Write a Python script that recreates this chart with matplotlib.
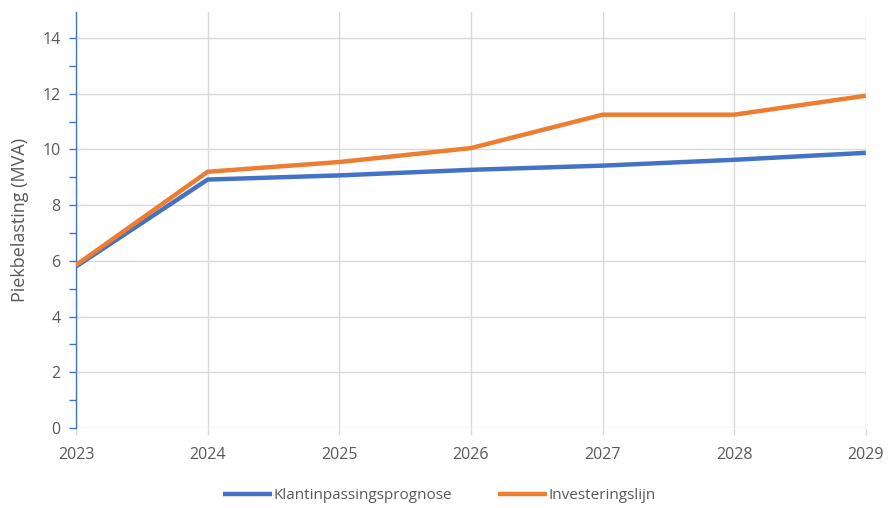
import matplotlib
matplotlib.use("Agg")
import matplotlib.pyplot as plt
from matplotlib.ticker import MultipleLocator

years = [2023, 2024, 2025, 2026, 2027, 2028, 2029]
klant = [5.8, 8.92, 9.07, 9.27, 9.42, 9.63, 9.88]
invest = [5.85, 9.2, 9.55, 10.05, 11.25, 11.25, 11.93]

plt.rcParams['font.family'] = ['Open Sans', 'DejaVu Sans']

fig = plt.figure(figsize=(8.88, 5.08), dpi=100)
ax = fig.add_axes([0.0856, 0.1575, 0.8894, 0.8185])

ax.plot(years, klant, color="#4472C4", lw=3.2, label="Klantinpassingsprognose",
        solid_capstyle="butt", zorder=3)
ax.plot(years, invest, color="#ED7D31", lw=3.2, label="Investeringslijn",
        solid_capstyle="butt", zorder=3)

ax.set_xlim(2023, 2029)
ax.set_ylim(0, 14.93)
ax.set_xticks(years)
ax.yaxis.set_major_locator(MultipleLocator(2))
ax.yaxis.set_minor_locator(MultipleLocator(1))

ax.grid(True, which="major", color="#d9d9d9", lw=1)
ax.set_axisbelow(True)

for s in ["top", "right", "bottom"]:
    ax.spines[s].set_visible(False)
ax.spines["left"].set_color("#4472C4")
ax.spines["left"].set_linewidth(1)

ax.tick_params(axis="y", which="both", colors="#4472C4", labelcolor="#595959",
               labelsize=11.5, length=5, width=1, pad=6)
ax.tick_params(axis="x", colors="#d9d9d9", labelcolor="#595959",
               labelsize=11.5, length=5, width=1, pad=9)

ax.set_ylabel("Piekbelasting (MVA)", color="#595959", fontsize=13, labelpad=10)

ax.legend(loc="upper center", bbox_to_anchor=(0.46, -0.112), ncol=2, frameon=False,
          fontsize=11, labelcolor="#595959", handlelength=3.2, handletextpad=0.1,
          columnspacing=3.0)

fig.savefig("out.png", dpi=100)
